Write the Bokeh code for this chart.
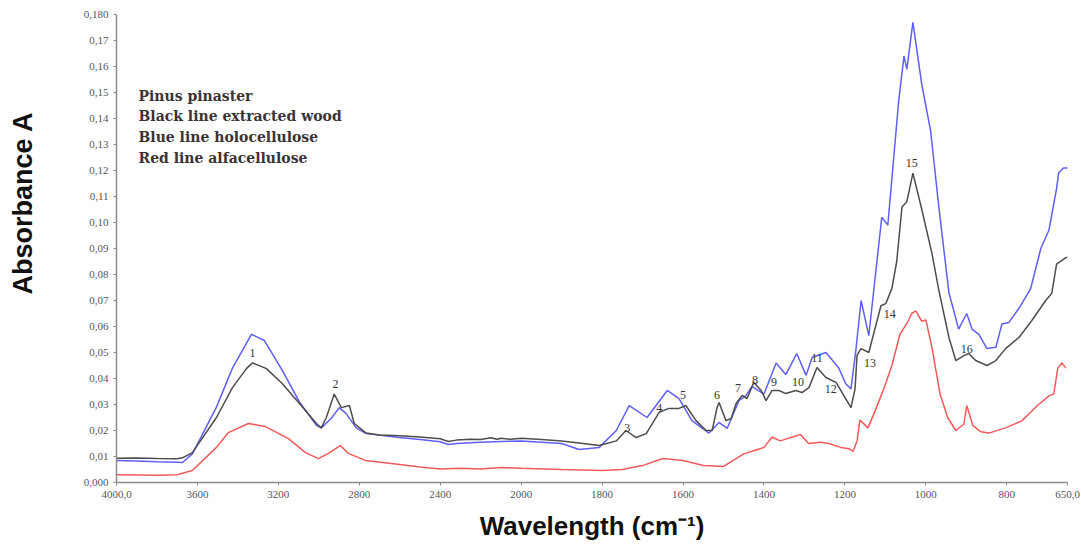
import numpy as np
from math import pi
from bokeh.plotting import figure
from bokeh.layouts import row
from bokeh.models import Range1d, FixedTicker, Label, ColumnDataSource
from bokeh.core.properties import value
from bokeh.embed import file_html
from bokeh.resources import INLINE

# ---- data (wavenumber cm-1, absorbance) ----
wood_w = [4000, 3900, 3800, 3700, 3674, 3625, 3506, 3427, 3358, 3328, 3259, 3180, 3096, 3012, 2988, 2963,
          2924, 2889, 2849, 2825, 2766, 2700, 2600, 2500, 2400, 2360, 2320, 2250, 2200, 2150, 2120, 2100,
          2050, 2000, 1950, 1900, 1857, 1807, 1765, 1741, 1716, 1691, 1659, 1635, 1610, 1593, 1568, 1543,
          1528, 1516, 1511, 1494, 1481, 1469, 1454, 1442, 1425, 1407, 1395, 1380, 1363, 1346, 1321, 1306,
          1289, 1269, 1247, 1222, 1203, 1185, 1175, 1170, 1160, 1141, 1111, 1099, 1084, 1072, 1059, 1047,
          1032, 1010, 985, 968, 943, 926, 906, 894, 877, 849, 827, 803, 770, 738, 704, 689, 677, 654, 650]
wood_a = [0.0093, 0.0094, 0.0092, 0.0091, 0.0095, 0.0115, 0.025, 0.0365, 0.0438, 0.046, 0.0438, 0.038, 0.0304,
          0.0227, 0.021, 0.025, 0.034, 0.0288, 0.0296, 0.0227, 0.019, 0.0183, 0.018, 0.0175, 0.0168, 0.0158,
          0.0163, 0.0166, 0.0165, 0.0172, 0.0166, 0.017, 0.0166, 0.017, 0.0165, 0.016, 0.0152, 0.0142, 0.016,
          0.020, 0.0173, 0.0188, 0.027, 0.0285, 0.0285, 0.0296, 0.0238, 0.020, 0.020, 0.0288, 0.0308, 0.0238,
          0.0246, 0.0304, 0.0335, 0.0323, 0.0385, 0.0354, 0.0315, 0.0354, 0.0354, 0.0342, 0.0354, 0.0346,
          0.0365, 0.0442, 0.0404, 0.0385, 0.0335, 0.0288, 0.036, 0.049, 0.0515, 0.050, 0.068, 0.0688, 0.0746,
          0.085, 0.106, 0.108, 0.119, 0.105, 0.0881, 0.074, 0.0558, 0.0469, 0.0488, 0.0496, 0.0469, 0.045,
          0.0469, 0.0515, 0.0558, 0.0623, 0.070, 0.0727, 0.084, 0.0865, 0.0865]

holo_w = [4000, 3900, 3800, 3700, 3674, 3625, 3506, 3427, 3333, 3269, 3180, 3096, 3012, 2988, 2939, 2899,
          2865, 2815, 2766, 2603, 2500, 2400, 2360, 2320, 2250, 2200, 2100, 2000, 1950, 1900, 1857, 1807,
          1765, 1733, 1689, 1639, 1610, 1578, 1536, 1511, 1491, 1462, 1444, 1430, 1400, 1370, 1346, 1319,
          1296, 1281, 1247, 1215, 1198, 1185, 1173, 1160, 1141, 1109, 1094, 1067, 1054, 1047, 1032, 1010,
          988, 968, 943, 919, 899, 886, 869, 849, 827, 812, 795, 770, 741, 716, 696, 677, 672, 660, 650]
holo_a = [0.0085, 0.0083, 0.0080, 0.0078, 0.0077, 0.011, 0.029, 0.044, 0.057, 0.0546, 0.043, 0.031, 0.022,
          0.021, 0.0246, 0.0288, 0.0265, 0.021, 0.0188, 0.0173, 0.0165, 0.0157, 0.0146, 0.015, 0.0153, 0.0155,
          0.0158, 0.016, 0.0155, 0.015, 0.0127, 0.0135, 0.020, 0.0296, 0.025, 0.0354, 0.0323, 0.0238, 0.019,
          0.0231, 0.0208, 0.0315, 0.0335, 0.037, 0.034, 0.046, 0.0415, 0.0496, 0.0412, 0.0481, 0.050, 0.044,
          0.038, 0.036, 0.0508, 0.070, 0.0565, 0.102, 0.099, 0.147, 0.164, 0.159, 0.177, 0.153, 0.135, 0.106,
          0.073, 0.059, 0.065, 0.059, 0.057, 0.0515, 0.052, 0.061, 0.0615, 0.067, 0.0746, 0.090, 0.097, 0.113,
          0.119, 0.121, 0.121]

alfa_w = [4000, 3900, 3800, 3700, 3625, 3506, 3447, 3348, 3264, 3150, 3066, 3002, 2953, 2894, 2854, 2770,
          2600, 2500, 2400, 2300, 2200, 2100, 2000, 1900, 1800, 1750, 1700, 1650, 1600, 1550, 1500, 1450,
          1420, 1400, 1380, 1360, 1320, 1310, 1290, 1260, 1240, 1210, 1190, 1180, 1170, 1163, 1143, 1123,
          1104, 1084, 1064, 1044, 1035, 1025, 1010, 1000, 985, 965, 946, 926, 906, 899, 884, 864, 844, 803,
          763, 724, 694, 684, 674, 664, 654]
alfa_a = [0.0030, 0.0029, 0.0028, 0.0030, 0.0046, 0.0135, 0.0192, 0.0227, 0.0215, 0.0169, 0.0115, 0.0092,
          0.0112, 0.0142, 0.0112, 0.0085, 0.0069, 0.006, 0.0052, 0.0055, 0.0052, 0.0058, 0.0055, 0.005, 0.0046,
          0.005, 0.0065, 0.0092, 0.0085, 0.0065, 0.0062, 0.011, 0.0125, 0.0135, 0.0175, 0.016, 0.018, 0.0185,
          0.015, 0.0155, 0.015, 0.0135, 0.013, 0.012, 0.016, 0.024, 0.021, 0.0285, 0.036, 0.045, 0.057, 0.062,
          0.065, 0.066, 0.062, 0.0625, 0.052, 0.034, 0.025, 0.020, 0.0225, 0.0296, 0.022, 0.0195, 0.019, 0.021,
          0.0237, 0.0296, 0.0335, 0.034, 0.044, 0.046, 0.044]

x_tick_values = [4000, 3600, 3200, 2800, 2400, 2000, 1800, 1600, 1400, 1200, 1000, 800, 650]
x_tick_labels = ["4000,0", "3600", "3200", "2800", "2400", "2000", "1800", "1600", "1400", "1200",
                 "1000", "800", "650,0"]
y_tick_values = [round(0.01 * i, 2) for i in range(19)]
y_tick_labels = ["0,000"] + ["0,%02d" % i for i in range(1, 18)] + ["0,180"]

peak_labels = ["1", "2", "3", "4", "5", "6", "7", "8", "9", "10", "11", "12", "13", "14", "15", "16"]
peak_w = [3328, 2918, 1738, 1659, 1600, 1516, 1464, 1422, 1375, 1316, 1269, 1235, 1138, 1089, 1035, 899]
peak_a = [0.050, 0.038, 0.0208, 0.0288, 0.0338, 0.0335, 0.0365, 0.0396, 0.0388, 0.0385, 0.048, 0.036,
          0.046, 0.065, 0.1227, 0.0515]

legend_lines = ["Pinus pinaster", "Black line extracted wood", "Blue line holocellulose",
                "Red line alfacellulose"]
y_title = "Absorbance A"
x_title = "Wavelength (cm\u207b\u00b9)"


def tx(w):
    """Split wavenumber scale: above 2000 cm-1 compressed by a factor 2."""
    w = np.asarray(w, dtype=float)
    return np.where(w > 2000, 2000 + (w - 2000) / 2.0, w)


# narrow strip holding the vertical axis title
LEFT_W = 44
side = figure(width=LEFT_W, height=544, x_range=Range1d(0, LEFT_W), y_range=Range1d(0, 544),
              output_backend="svg", toolbar_location=None, x_axis_location=None, y_axis_location=None,
              min_border=0)
side.outline_line_color = None
side.xgrid.visible = False
side.ygrid.visible = False
side.text(x=[22], y=[325], text=[y_title], angle=pi / 2, text_align="center", text_baseline="middle",
          text_font=value("Liberation Sans"), text_font_style="bold", text_font_size="27px",
          text_color="#111111")

p = figure(width=1081 - LEFT_W, height=544, x_range=Range1d(3000, 650), y_range=Range1d(0, 0.18),
           output_backend="svg", toolbar_location=None,
           min_border_left=116 - LEFT_W, min_border_right=14, min_border_top=14, min_border_bottom=62)
p.outline_line_color = None
p.xgrid.visible = False
p.ygrid.visible = False
p.background_fill_color = "white"
p.border_fill_color = "white"

p.line(tx(holo_w), holo_a, line_color="#5f5ff5", line_width=1.5)
p.line(tx(alfa_w), alfa_a, line_color="#f25a5a", line_width=1.5)
p.line(tx(wood_w), wood_a, line_color="#4d4d4d", line_width=1.5)

src = ColumnDataSource(dict(x=tx(peak_w), y=peak_a, t=peak_labels))
p.text(x="x", y="y", text="t", source=src, text_font=value("Liberation Serif"),
       text_font_size="12px", text_align="center", text_baseline="middle", text_color="#333333")

# axes
xt = [float(v) for v in tx(x_tick_values)]
p.xaxis.ticker = FixedTicker(ticks=xt)
p.xaxis.major_label_overrides = {v: lab for v, lab in zip(xt, x_tick_labels)}
p.yaxis.ticker = FixedTicker(ticks=y_tick_values)
p.yaxis.major_label_overrides = {v: lab for v, lab in zip(y_tick_values, y_tick_labels)}

for ax in (p.xaxis, p.yaxis):
    ax.axis_line_color = "#8c8c8c"
    ax.axis_line_width = 1.5
    ax.major_tick_line_color = "#8c8c8c"
    ax.major_tick_out = 3
    ax.major_tick_in = 0
    ax.minor_tick_line_color = None
    ax.major_label_text_font = "Liberation Serif"
    ax.major_label_text_font_size = "11px"
    ax.major_label_text_color = "#555555"
    ax.major_label_standoff = 5

p.xaxis.axis_label = x_title
p.xaxis.axis_label_text_font = "Liberation Sans"
p.xaxis.axis_label_text_font_style = "bold"
p.xaxis.axis_label_text_font_size = "26px"
p.xaxis.axis_label_text_color = "#111111"
p.xaxis.axis_label_standoff = 10

for i, line in enumerate(legend_lines):
    p.add_layout(Label(x=22, y=387 - 20.8 * i, x_units="screen", y_units="screen", text=line,
                       text_align="left", text_baseline="middle",
                       text_font="DejaVu Serif", text_font_style="bold",
                       text_font_size="14px", text_color="#3b3434"))

layout = row(side, p, spacing=0)
open("out.html", "w").write(file_html(layout, INLINE))
